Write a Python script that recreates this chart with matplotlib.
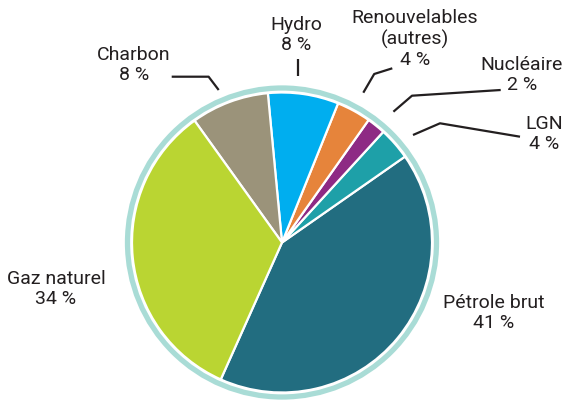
import matplotlib
matplotlib.use('Agg')
import matplotlib.pyplot as plt
from matplotlib.patches import Circle

# energy mix, share of each source
sources = ['Pétrole brut', 'LGN', 'Nucléaire', 'Renouvelables\n(autres)', 'Hydro', 'Charbon', 'Gaz naturel']
shares = [41.4, 3.5, 2.0, 3.7, 7.6, 8.4, 33.4]
share_labels = ['41 %', '4 %', '2 %', '4 %', '8 %', '8 %', '34 %']
colors = ['#226d80', '#1ea0a8', '#8e2a84', '#e6843b', '#00aeef', '#9b937a', '#bad532']

plt.rcParams['font.family'] = ['Roboto', 'DejaVu Sans']

W, H = 565, 401
fig = plt.figure(figsize=(W / 100, H / 100), dpi=100)
ax = fig.add_axes([0, 0, 1, 1])

def up(y):
    # pixel row (from top) -> data y
    return H - y

cx, cy = 282, up(242.5)
ax.pie(shares, colors=colors, startangle=-114.1, center=(cx, cy), radius=150,
       wedgeprops=dict(edgecolor='white', linewidth=1.6), frame=True)
ax.set_xlim(0, W)
ax.set_ylim(0, H)
ax.set_aspect('equal')
ax.axis('off')

ax.add_patch(Circle((cx, cy), 154.5, fill=False, edgecolor='#a9dcd6', linewidth=3.8))

txt = dict(va='center', fontsize=14, color='#231f20', linespacing=1.2,
           multialignment='center')

# label anchor (pixel coords), horizontal alignment
label_pos = {
    'Pétrole brut': (494, 313, 'center'),
    'LGN': (563, 134, 'right'),
    'Nucléaire': (563, 75, 'right'),
    'Renouvelables\n(autres)': (415, 39, 'center'),
    'Hydro': (296, 35, 'center'),
    'Charbon': (134, 65, 'center'),
    'Gaz naturel': (56, 289, 'center'),
}
leaders = {
    'LGN': [(520, 136.7), (440, 123.3), (413, 135)],
    'Nucléaire': [(500.7, 90), (412, 95.7), (393.4, 111.7)],
    'Renouvelables\n(autres)': [(392.3, 68.3), (374.2, 74), (363.3, 92.7)],
    'Hydro': [(298, 59), (298, 76)],
    'Charbon': [(171.7, 76.7), (208.6, 76.7), (218.7, 90)],
}

for name, pct in zip(sources, share_labels):
    x, y, ha = label_pos[name]
    ax.text(x, up(y), name + '\n' + pct, ha=ha, **txt)
    if name in leaders:
        pts = leaders[name]
        ax.plot([p[0] for p in pts], [up(p[1]) for p in pts], color='#231f20', lw=1.6,
                solid_capstyle='butt')

fig.savefig('out.png', dpi=100)
